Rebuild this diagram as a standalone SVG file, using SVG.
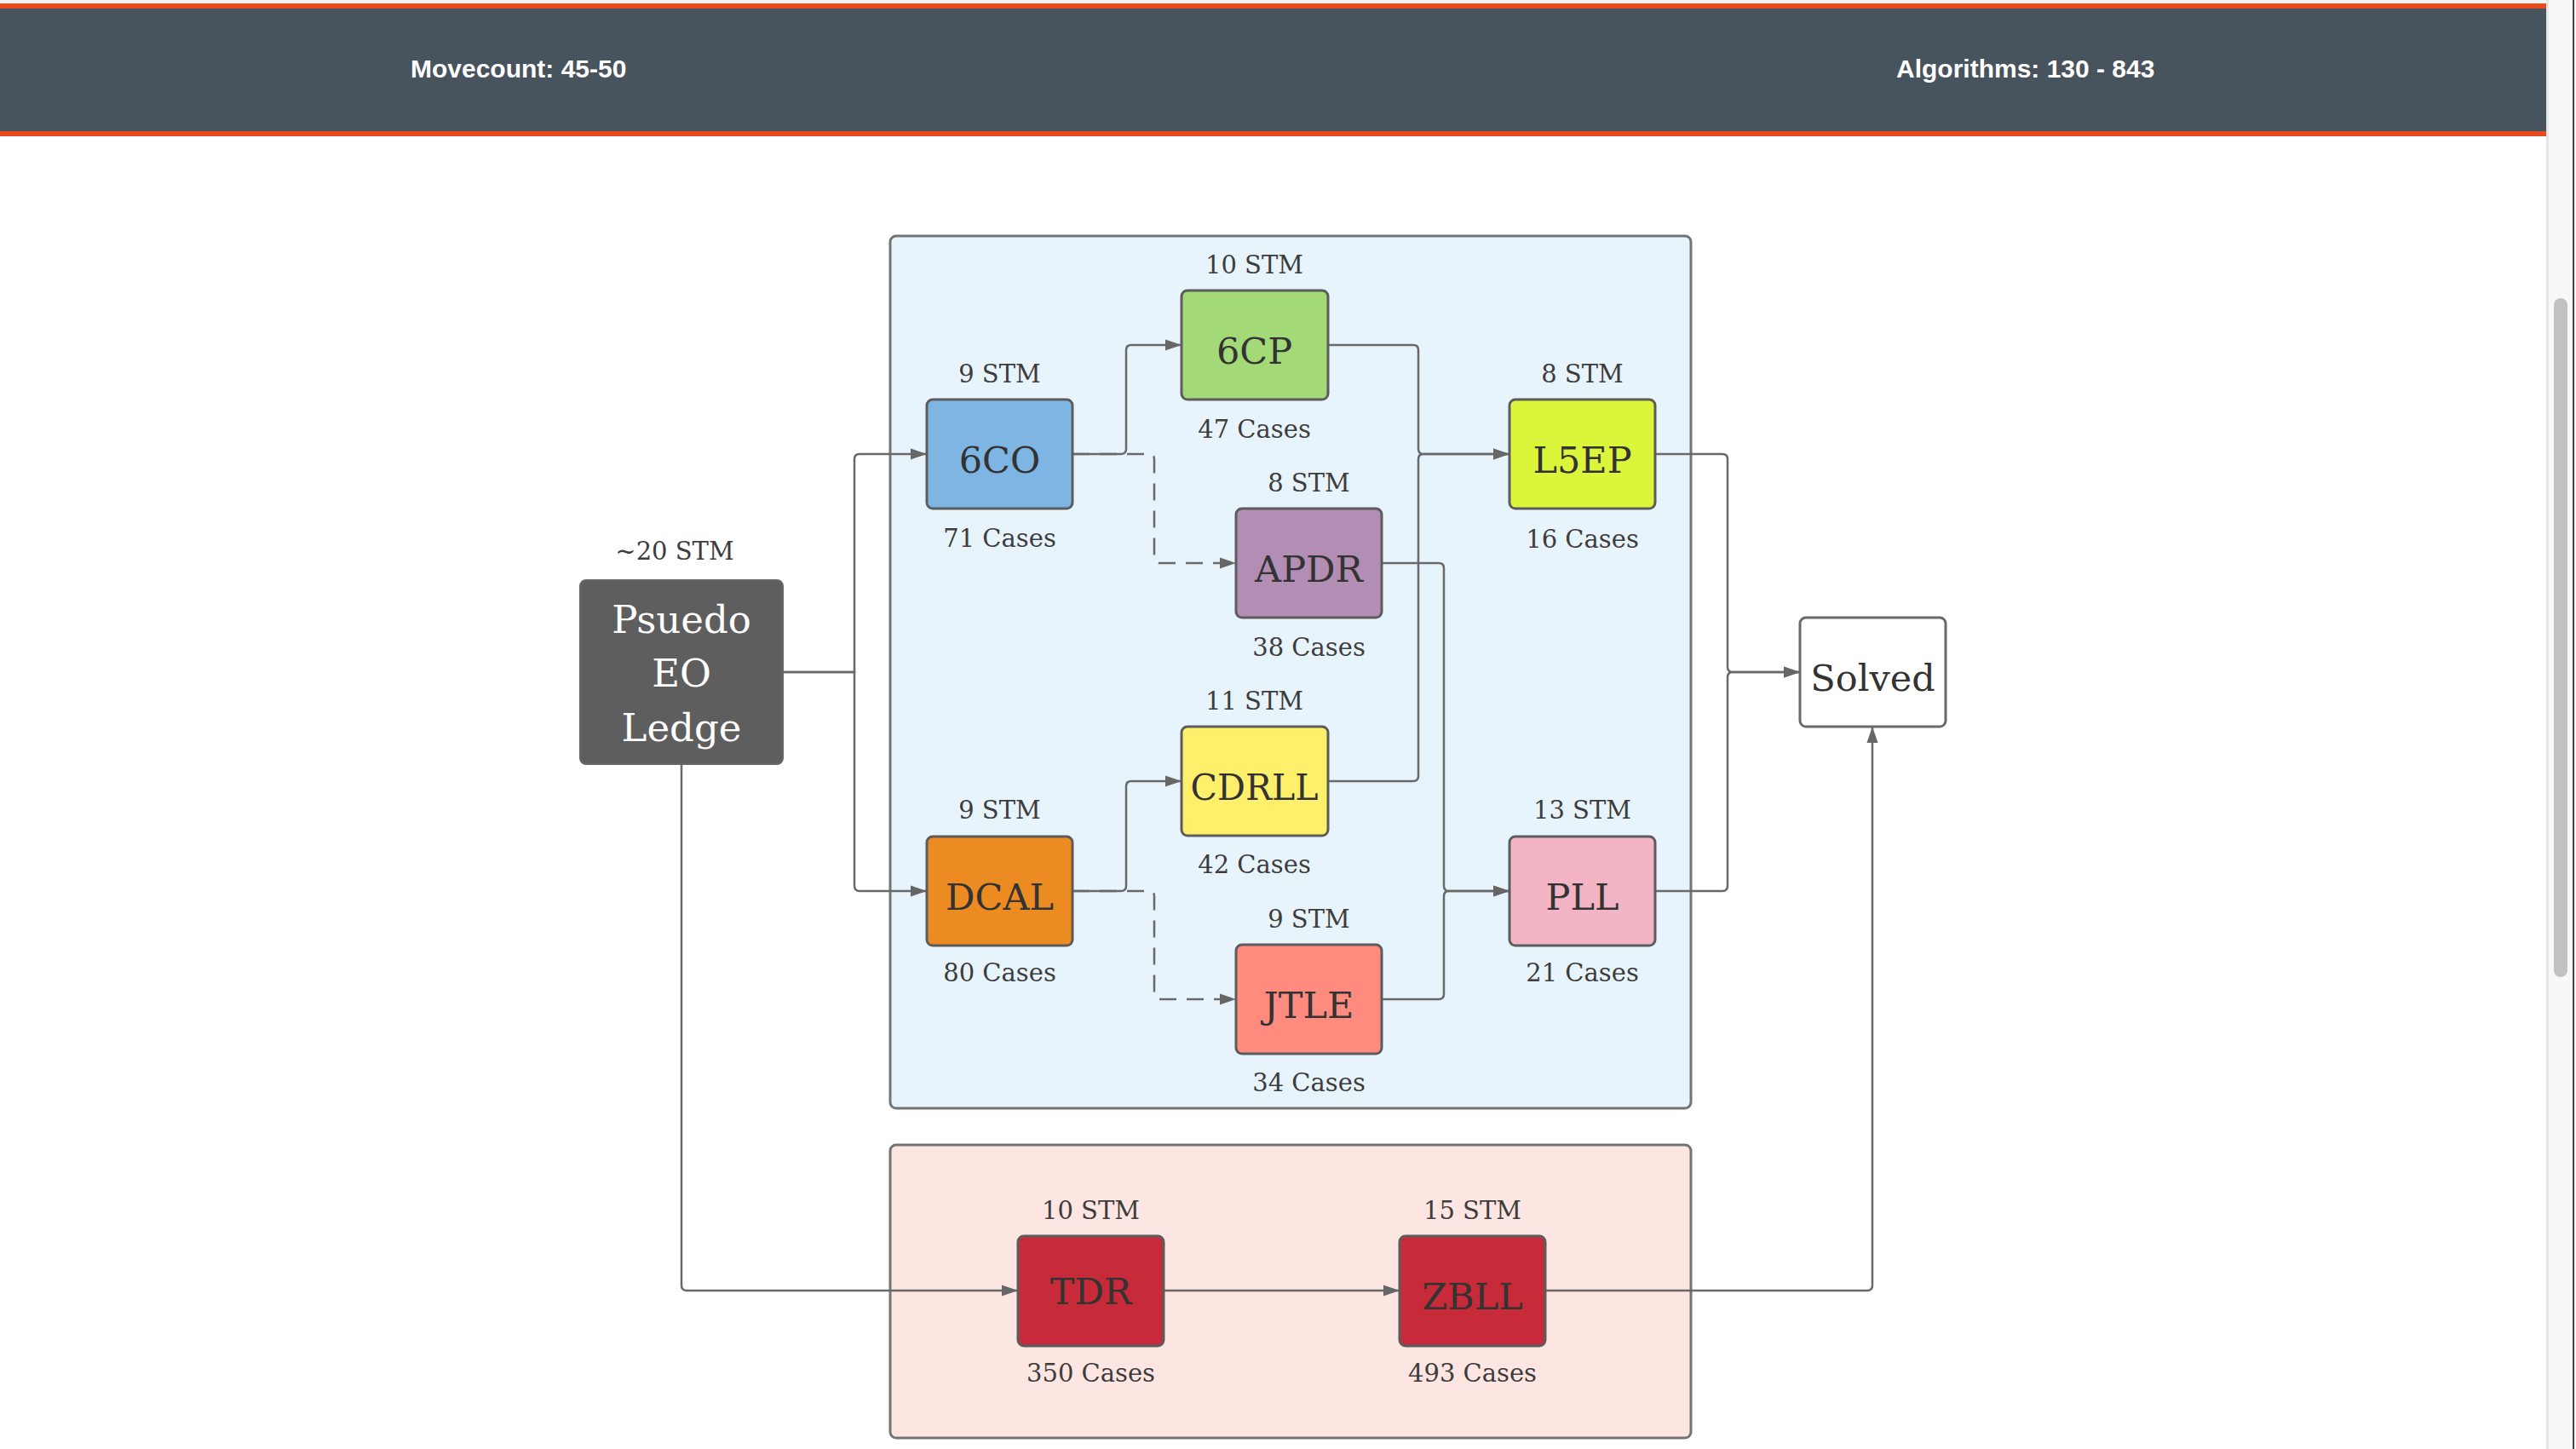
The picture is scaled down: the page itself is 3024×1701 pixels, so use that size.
<svg xmlns="http://www.w3.org/2000/svg" width="3024" height="1701" viewBox="0 0 3024 1701">
<defs>
<marker id="arr" markerUnits="userSpaceOnUse" markerWidth="20" markerHeight="14" refX="19" refY="7" orient="auto">
<path d="M0,0.5 L19,7 L0,13.5 z" fill="#666"/>
</marker>
<style>
.hdr{font-family:"Liberation Sans",Arial,sans-serif;font-weight:bold;font-size:30px;fill:#fff}
.lbl{font-family:"DejaVu Serif","Liberation Serif",serif;font-size:29px;fill:#3d3d3d;text-anchor:middle}
.nt{font-family:"DejaVu Serif","Liberation Serif",serif;font-size:43px;fill:#333;text-anchor:middle}
.ntw{font-family:"DejaVu Serif","Liberation Serif",serif;font-size:45px;fill:#fff;text-anchor:middle}
.node{stroke:#5c5c5c;stroke-width:3}
.cont{stroke:#747474;stroke-width:3}
.con{fill:none;stroke:#696969;stroke-width:2.5;marker-end:url(#arr)}
.dash{stroke-dasharray:20 12}
</style>
</defs>
<rect x="0" y="0" width="3024" height="1701" fill="#fff"/>
<g id="header">
<rect x="0" y="0" width="2989" height="4" fill="#f2f2f2"/>
<rect x="0" y="4" width="2989" height="156" fill="#e84a1f"/>
<rect x="0" y="10" width="2989" height="144" fill="#47535d"/>
<text class="hdr" x="482" y="91">Movecount: 45-50</text>
<text class="hdr" x="2226" y="91">Algorithms: 130 - 843</text>
</g>
<g id="scrollbar">
<rect x="2989" y="0" width="35" height="1701" fill="#f8f8f8"/>
<rect x="2989" y="0" width="3" height="1701" fill="#e6e6e6"/>
<rect x="2998" y="350" width="16" height="797" rx="8" fill="#c1c1c1"/>
<rect x="3020" y="0" width="2" height="1701" fill="#444"/>
</g>
<g id="group-main">
<rect class="cont" x="1045" y="277" width="940" height="1024" rx="7" fill="#e8f4fb"/>
</g>
<g id="group-alt">
<rect class="cont" x="1045" y="1344" width="940" height="344" rx="7" fill="#fde6e2"/>
</g>
<g id="connectors">
<path class="con" d="M919,789 H1003 V539 Q1003,533 1009,533 H1088"/>
<path class="con" d="M919,789 H1003 V1040 Q1003,1046 1009,1046 H1088"/>
<path class="con" d="M800,897 V1509 Q800,1515 806,1515 H1195"/>
<path class="con dash" d="M1259,533 H1349 Q1355,533 1355,539 V655 Q1355,661 1361,661 H1451"/>
<path class="con" d="M1259,533 H1316 Q1322,533 1322,527 V411 Q1322,405 1328,405 H1387"/>
<path class="con" d="M1559,405 H1659 Q1665,405 1665,411 V527 Q1665,533 1671,533 H1772"/>
<path class="con" d="M1559,917 H1659 Q1665,917 1665,911 V539 Q1665,533 1671,533 H1772"/>
<path class="con" d="M1622,661 H1689 Q1695,661 1695,667 V1040 Q1695,1046 1701,1046 H1772"/>
<path class="con" d="M1622,1173 H1689 Q1695,1173 1695,1167 V1052 Q1695,1046 1701,1046 H1772"/>
<path class="con dash" d="M1259,1046 H1349 Q1355,1046 1355,1052 V1167 Q1355,1173 1361,1173 H1451"/>
<path class="con" d="M1259,1046 H1316 Q1322,1046 1322,1040 V923 Q1322,917 1328,917 H1387"/>
<path class="con" d="M1943,533 H2022 Q2028,533 2028,539 V783 Q2028,789 2034,789 H2113"/>
<path class="con" d="M1943,1046 H2022 Q2028,1046 2028,1040 V795 Q2028,789 2034,789 H2113"/>
<path class="con" d="M1366,1515 H1643"/>
<path class="con" d="M1814,1515 H2192 Q2198,1515 2198,1509 V853"/>
</g>
<g id="node-pseudo">
<text class="lbl" x="792" y="657">~20 STM</text>
<rect x="681" y="681" width="238" height="216" rx="7" fill="#5e5e5e" stroke="#666" stroke-width="2"/>
<text class="ntw" x="800" y="743">Psuedo</text>
<text class="ntw" x="800" y="806">EO</text>
<text class="ntw" x="800" y="870">Ledge</text>
</g>
<g id="node-6co">
<text class="lbl" x="1173.5" y="449">9 STM</text>
<rect class="node" x="1088" y="469" width="171" height="128" rx="7" fill="#7fb5e2"/>
<text class="nt" x="1173.5" y="555">6CO</text>
<text class="lbl" x="1173.5" y="642">71 Cases</text>
</g>
<g id="node-6cp">
<text class="lbl" x="1472.5" y="321">10 STM</text>
<rect class="node" x="1387" y="341" width="172" height="128" rx="7" fill="#a3d977"/>
<text class="nt" x="1472.5" y="427">6CP</text>
<text class="lbl" x="1472.5" y="514">47 Cases</text>
</g>
<g id="node-apdr">
<text class="lbl" x="1536.5" y="577">8 STM</text>
<rect class="node" x="1451" y="597" width="171" height="128" rx="7" fill="#b28db4"/>
<text class="nt" x="1536.5" y="683">APDR</text>
<text class="lbl" x="1536.5" y="770">38 Cases</text>
</g>
<g id="node-l5ep">
<text class="lbl" x="1857.5" y="449">8 STM</text>
<rect class="node" x="1772" y="469" width="171" height="128" rx="7" fill="#dbf63a"/>
<text class="nt" x="1857.5" y="555">L5EP</text>
<text class="lbl" x="1857.5" y="643">16 Cases</text>
</g>
<g id="node-cdrll">
<text class="lbl" x="1472.5" y="833">11 STM</text>
<rect class="node" x="1387" y="853" width="172" height="128" rx="7" fill="#fef06b"/>
<text class="nt" x="1472.5" y="939" textLength="150" lengthAdjust="spacingAndGlyphs">CDRLL</text>
<text class="lbl" x="1472.5" y="1025">42 Cases</text>
</g>
<g id="node-dcal">
<text class="lbl" x="1173.5" y="961">9 STM</text>
<rect class="node" x="1088" y="982" width="171" height="128" rx="7" fill="#ec8b22"/>
<text class="nt" x="1173.5" y="1068">DCAL</text>
<text class="lbl" x="1173.5" y="1152">80 Cases</text>
</g>
<g id="node-jtle">
<text class="lbl" x="1536.5" y="1089">9 STM</text>
<rect class="node" x="1451" y="1109" width="171" height="128" rx="7" fill="#fe8b7e"/>
<text class="nt" x="1536.5" y="1195">JTLE</text>
<text class="lbl" x="1536.5" y="1281">34 Cases</text>
</g>
<g id="node-pll">
<text class="lbl" x="1857.5" y="961">13 STM</text>
<rect class="node" x="1772" y="982" width="171" height="128" rx="7" fill="#f3b4c5"/>
<text class="nt" x="1857.5" y="1068">PLL</text>
<text class="lbl" x="1857.5" y="1152">21 Cases</text>
</g>
<g id="node-solved">
<rect x="2113" y="725" width="171" height="128" rx="7" fill="#fff" stroke="#6a6a6a" stroke-width="3"/>
<text class="nt" x="2198.5" y="811">Solved</text>
</g>
<g id="node-tdr">
<text class="lbl" x="1280.5" y="1431">10 STM</text>
<rect class="node" x="1195" y="1451" width="171" height="129" rx="7" fill="#c72a38"/>
<text class="nt" x="1280.5" y="1531">TDR</text>
<text class="lbl" x="1280.5" y="1622">350 Cases</text>
</g>
<g id="node-zbll">
<text class="lbl" x="1728.5" y="1431">15 STM</text>
<rect class="node" x="1643" y="1451" width="171" height="129" rx="7" fill="#c72a38"/>
<text class="nt" x="1728.5" y="1537">ZBLL</text>
<text class="lbl" x="1728.5" y="1622">493 Cases</text>
</g>
</svg>
